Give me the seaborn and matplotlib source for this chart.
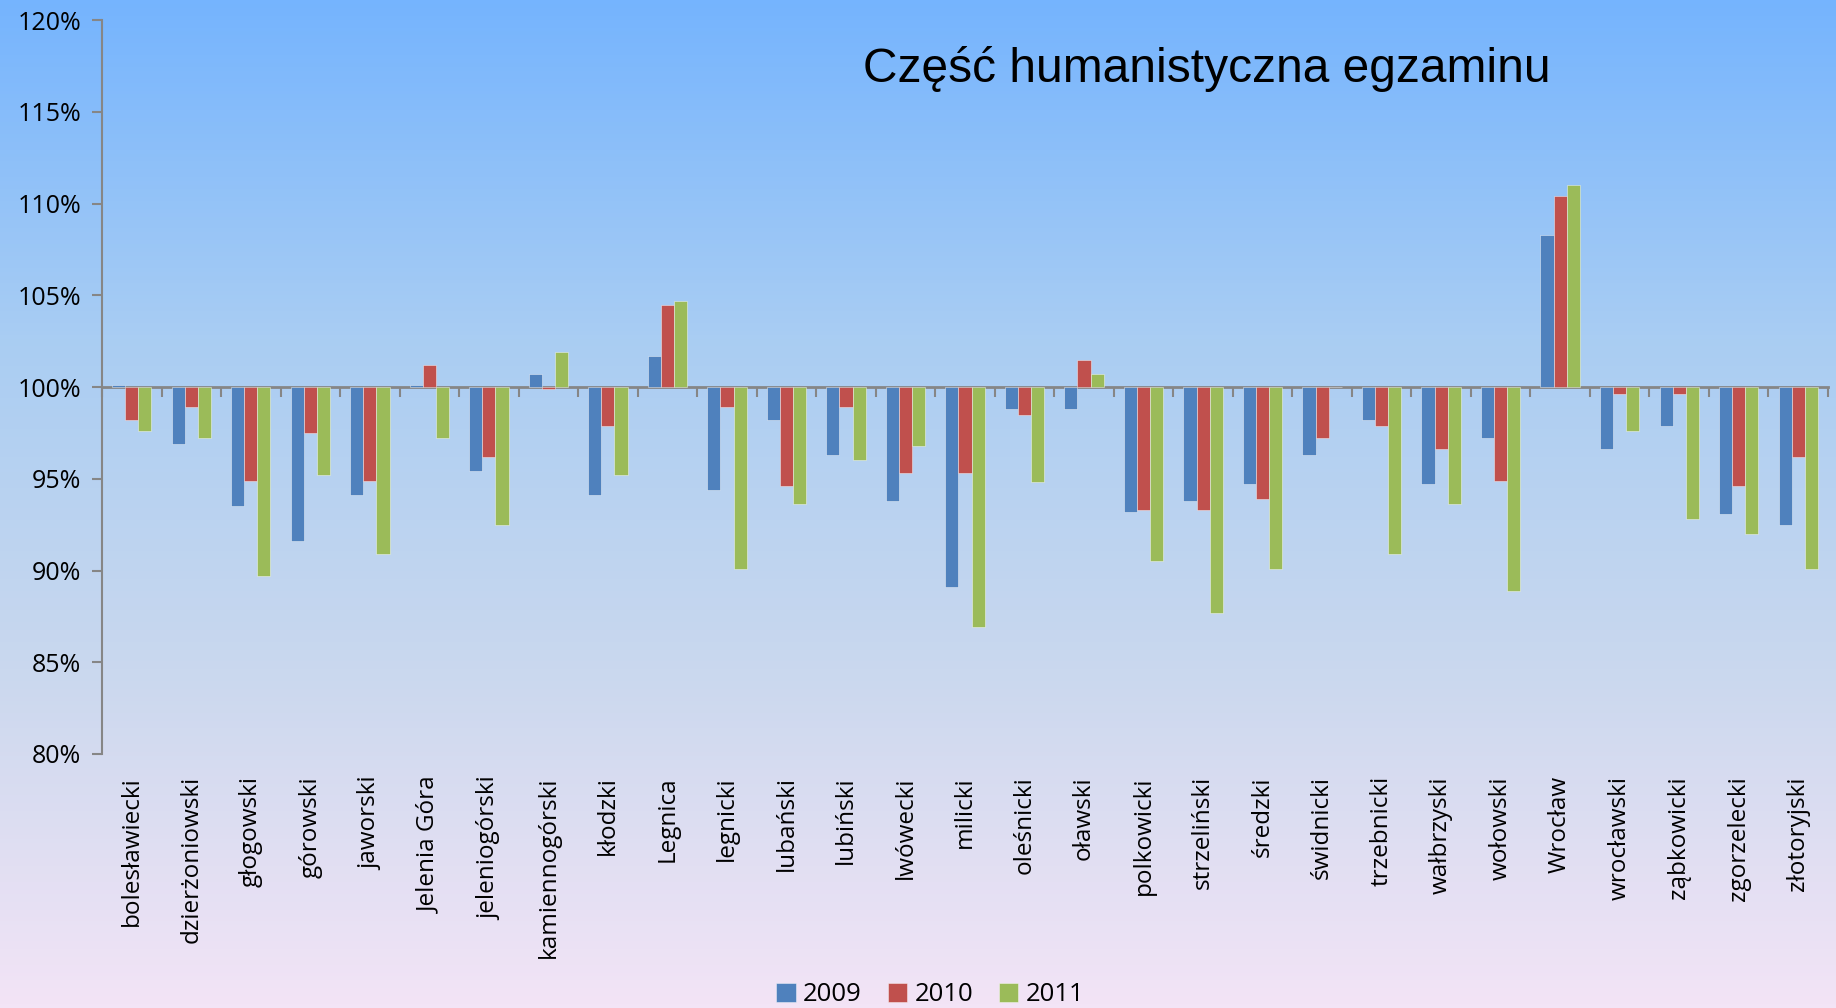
import numpy as np
import pandas as pd
import matplotlib
matplotlib.use("Agg")
import matplotlib.pyplot as plt
from matplotlib.colors import LinearSegmentedColormap
from matplotlib.ticker import FuncFormatter
import seaborn as sns

# Data (percent of the regional mean)
powiaty = ["bolesławiecki", "dzierżoniowski", "głogowski", "górowski", "jaworski",
           "Jelenia Góra", "jeleniogórski", "kamiennogórski", "kłodzki", "Legnica",
           "legnicki", "lubański", "lubiński", "lwówecki", "milicki", "oleśnicki",
           "oławski", "polkowicki", "strzeliński", "średzki", "świdnicki",
           "trzebnicki", "wałbrzyski", "wołowski", "Wrocław", "wrocławski",
           "ząbkowicki", "zgorzelecki", "złotoryjski"]
years = ["2009", "2010", "2011"]
v2009 = [100.1, 96.9, 93.5, 91.6, 94.1, 100.1, 95.4, 100.7, 94.1, 101.7,
         94.4, 98.2, 96.3, 93.8, 89.1, 98.8, 98.8, 93.2, 93.8, 94.7, 96.3,
         98.2, 94.7, 97.2, 108.3, 96.6, 97.9, 93.1, 92.5]
v2010 = [98.2, 98.9, 94.9, 97.5, 94.9, 101.2, 96.2, 99.9, 97.9, 104.5,
         98.9, 94.6, 98.9, 95.3, 95.3, 98.5, 101.5, 93.3, 93.3, 93.9, 97.2,
         97.9, 96.6, 94.9, 110.4, 99.6, 99.6, 94.6, 96.2]
v2011 = [97.6, 97.2, 89.7, 95.2, 90.9, 97.2, 92.5, 101.9, 95.2, 104.7,
         90.1, 93.6, 96.0, 96.8, 86.9, 94.8, 100.7, 90.5, 87.7, 90.1, 100.0,
         90.9, 93.6, 88.9, 111.0, 97.6, 92.8, 92.0, 90.1]
colors = ["#4F81BD", "#C0504D", "#9BBB59"]

df = pd.DataFrame({
    "powiat": powiaty * 3,
    "rok": np.repeat(years, len(powiaty)),
    "wynik": v2009 + v2010 + v2011,
})
df["odchylenie"] = df["wynik"] - 100  # bars hang from the 100% line

fig = plt.figure(figsize=(18.36, 10.08), dpi=100)

# gradient background over the whole figure
bg = fig.add_axes([0, 0, 1, 1], zorder=-10)
cmap = LinearSegmentedColormap.from_list("bg", ["#75B4FE", "#A9CDF3", "#CAD8EE", "#F3E4F6"])
bg.imshow(np.linspace(0, 1, 256).reshape(-1, 1), aspect="auto", cmap=cmap,
          extent=[0, 1, 0, 1])
bg.set_axis_off()

ax = fig.add_axes([0.0556, 0.252, 0.94, 0.728])
ax.set_facecolor("none")

sns.barplot(data=df, x="powiat", y="odchylenie", hue="rok", palette=colors,
            width=0.66, saturation=1, ax=ax, linewidth=0.6, edgecolor="#ffffff80")

ax.set_ylim(-20, 20)
ax.set_xlim(-0.5, len(powiaty) - 0.5)
ax.set_yticks(np.arange(-20, 21, 5))
ax.yaxis.set_major_formatter(FuncFormatter(lambda v, p: f"{v + 100:.0f}%"))
ax.set_xlabel("")
ax.set_ylabel("")

for s in ["top", "right", "bottom"]:
    ax.spines[s].set_visible(False)
ax.spines["left"].set_color("#868686")
ax.spines["left"].set_linewidth(1.5)
ax.tick_params(axis="y", direction="out", length=7, width=1.5, color="#868686",
               labelsize=18, pad=8)
ax.tick_params(axis="x", length=0, pad=16, labelsize=17.5)
plt.setp(ax.get_xticklabels(), rotation=90, va="top", ha="center",
         family="Open Sans")
plt.setp(ax.get_yticklabels(), family="Open Sans")

# horizontal axis line at 100% with category-boundary ticks
sec = ax.secondary_xaxis(0.5)
sec.set_xticks(np.arange(len(powiaty) + 1) - 0.5)
sec.tick_params(direction="in", length=7, width=1.5, color="#868686",
                labeltop=False, labelbottom=False)
for s in sec.spines.values():
    s.set_color("#868686")
    s.set_linewidth(2)

ax.set_title("Część humanistyczna egzaminu", family="Liberation Sans",
             fontsize=34.5, x=0.64, y=0.905, loc="center")

leg = ax.legend(loc="center", bbox_to_anchor=(0.48, -0.328), ncol=3,
                frameon=False, handlelength=0.75, handleheight=0.75,
                handletextpad=0.3, columnspacing=1.0,
                prop={"family": "Open Sans", "size": 18.5})

fig.savefig("out.png", dpi=100)
